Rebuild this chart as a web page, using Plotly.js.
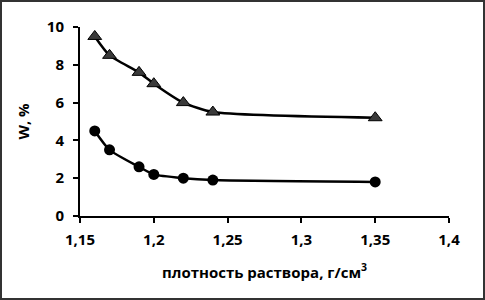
<!DOCTYPE html>
<html><head><meta charset="utf-8">
<script src="https://cdn.plot.ly/plotly-3.0.1.min.js"></script>
<style>html,body{margin:0;padding:0;background:#fff}#c{width:485px;height:300px}</style>
</head><body><div id="c"></div>
<script>
const density = [1.16, 1.17, 1.19, 1.2, 1.22, 1.24, 1.35];
const wTriangle = [9.5, 8.5, 7.6, 7.0, 6.0, 5.5, 5.2];
const wCircle = [4.5, 3.5, 2.6, 2.2, 2.0, 1.9, 1.8];
const xTicks = [1.15, 1.2, 1.25, 1.3, 1.35, 1.4];
const xTickLabels = ['1,15', '1,2', '1,25', '1,3', '1,35', '1,4'];
const yTicks = [0, 2, 4, 6, 8, 10];

const W = 485, H = 300, ml = 80, mr = 36, mt = 27, mb = 84;
const pw = W - ml - mr, ph = H - mt - mb;
const F = 'Open Sans, Noto Sans, sans-serif';

const traces = [
  {x: density, y: wTriangle, mode: 'lines+markers', line: {color: '#000', width: 2.5, shape: 'spline', smoothing: 0.6},
   marker: {symbol: 'triangle-up', size: 12, color: '#3a3a3a', line: {color: '#000', width: 1}}, cliponaxis: false},
  {x: density, y: wCircle, mode: 'lines+markers', line: {color: '#000', width: 2.5, shape: 'spline', smoothing: 0.6},
   marker: {symbol: 'circle', size: 11, color: '#000'}, cliponaxis: false}
];

const layout = {
  width: W, height: H, showlegend: false,
  margin: {l: ml, r: mr, t: mt, b: mb, pad: 0},
  paper_bgcolor: '#fff', plot_bgcolor: '#fff',
  font: {family: F, color: '#000'},
  xaxis: {range: [1.15, 1.4], tickvals: xTicks, ticktext: xTickLabels, showgrid: false, zeroline: false,
    showline: true, linecolor: '#000', linewidth: 2, ticks: 'outside', ticklen: 5, tickwidth: 2, tickcolor: '#000',
    tickfont: {family: F, size: 15, color: '#000', weight: 'bold'}, ticklabelstandoff: 4,
    title: {text: 'плотность раствора, г/см<sup>3</sup>', font: {family: F, size: 15, color: '#000', weight: 'bold'}, standoff: 19}},
  yaxis: {range: [0, 10], tickvals: yTicks, showgrid: false, zeroline: false,
    showline: true, linecolor: '#000', linewidth: 2, ticks: 'outside', ticklen: 5, tickwidth: 2, tickcolor: '#000',
    tickfont: {family: F, size: 15, color: '#000', weight: 'bold'}, ticklabelstandoff: 6,
    title: {text: 'W, %', font: {family: F, size: 15, color: '#000', weight: 'bold'}, standoff: 14}},
  shapes: [{type: 'rect', xref: 'paper', yref: 'paper',
    x0: (1 - ml) / pw, x1: (W - 1 - ml) / pw, y0: -(mb - 1) / ph, y1: 1 + (mt - 1) / ph,
    line: {color: '#333', width: 2}}]
};
Plotly.newPlot('c', traces, layout, {displayModeBar: false, staticPlot: true});
</script></body></html>
